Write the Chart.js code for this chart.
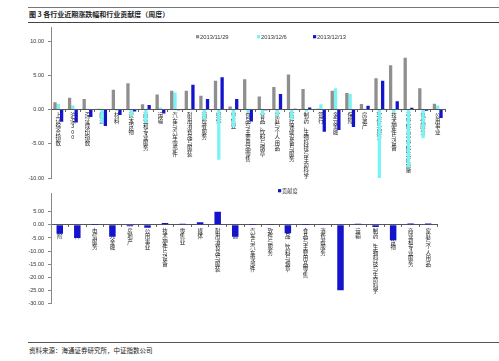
<!DOCTYPE html>
<html>
<head>
<meta charset="utf-8">
<script src="https://cdn.jsdelivr.net/npm/chart.js@4.4.0/dist/chart.umd.min.js"></script>
<style>
  html, body { margin: 0; padding: 0; background: #fff; }
  #wrap { position: relative; width: 499px; height: 361px; overflow: hidden; background: #fff; }
  .line { position: absolute; left: 28px; right: 0; }
  #title { position: absolute; left: 29px; top: 9px; font: bold 7px 'Noto Sans CJK SC', sans-serif; color: #222; white-space: nowrap; }
  #foot { position: absolute; left: 29px; top: 345px; font: 6.5px 'Noto Sans CJK SC', sans-serif; color: #222; white-space: nowrap; }
  #c1 { position: absolute; left: 0; top: 20px; }
  #c2 { position: absolute; left: 0; top: 186px; }
</style>
</head>
<body>
<div id="wrap">
  <div class="line" style="top:7px;height:1px;background:#777;"></div>
  <div id="title">图 3 各行业近期涨跌幅和行业贡献度（周度）</div>
  <div class="line" style="top:22px;height:1px;background:#444;"></div>
  <canvas id="c1" width="499" height="166"></canvas>
  <canvas id="c2" width="499" height="125"></canvas>
  <div class="line" style="top:342px;height:1px;background:#555;"></div>
  <div id="foot">资料来源：海通证券研究所，中证指数公司</div>
</div>
<script>
// ---- data ----
const sectors = ['上证综合指数','沪深300','深证成份指数','能源','材料','资本货物','商业和专业服务','运输','汽车与汽车零部件','耐用消费品与服装','消费者服务','媒体','零售业','食品与主要用品零售','食品、饮料与烟草','家庭与个人用品','医疗保健设备与服务','制药、生物科技与生命科学','银行','多元金融','保险','房地产','软件与服务','技术硬件与设备','半导体与半导体生产设备','电信服务','公用事业'];
const seriesNames = ['2013/11/29','2013/12/6','2013/12/13'];
const week1129 = [1.05, 1.7, 1.55, 0.1, 2.9, 3.85, 0.75, 2.2, 2.75, 2.75, 2.0, 4.2, 0.45, 4.4, 1.9, 3.3, 5.1, 3.0, 0.1, 2.75, 2.4, 0.8, 4.55, 6.45, 7.55, 3.1, 0.85];
const week1206 = [0.8, 0.6, 0.1, -2.0, -0.2, -1.0, -2.0, 0.3, 2.5, 0.1, -1.5, -7.35, -2.55, -0.5, -0.8, -1.0, -1.5, -0.3, 0.75, 3.1, 2.25, 0.1, -10.0, -0.5, -8.5, -4.2, 0.6];
const week1213 = [-1.8, -1.9, -1.1, -2.4, -0.8, -0.3, 0.65, -0.6, -0.1, 3.6, 1.55, 4.7, 1.55, -1.75, -0.1, 2.25, 0.1, 0.3, -3.25, -3.0, -2.55, 0.55, 4.2, 1.2, 0.25, -0.2, -1.25];
const topTicks = [-10, -5, 0, 5, 10];

const contribSectors = ['保险','材料','电信服务','多元金融','房地产','公用事业','技术硬件与设备','零售业','媒体','耐用消费品与服装','能源','汽车与汽车零部件','软件与服务','食品、饮料与烟草','食品与主要用品零售','消费者服务','银行','运输','制药、生物科技与生命科学','资本货物','商业和专业服务','家庭与个人用品'];
const contribName = '贡献度';
const contribValues = [-3.4, -5.0, 0.05, -4.5, -0.5, -1.1, 0.7, 0.45, 0.95, 5.0, -4.5, 0.05, 0.1, -3.2, 0.05, 0.3, -24.9, 0.4, -0.8, -5.9, 0.5, 0.5];
const bottomTicks = [-30, -25, -20, -15, -10, -5, 0, 5, 10];

// ---- styles ----
const GRAY = '#8f8f8f', CYAN = '#78f4f4', BLUE = '#1414cc';
const numFont = { family: "'Liberation Sans', Arial, sans-serif", size: 5.5 };
const cjkFont = { family: "'Noto Sans CJK SC', sans-serif", size: 5.5, lineHeight: 1.0 };

const floatLegend = {
  id: 'floatLegend',
  afterDraw(chart, args, opts) {
    const ctx = chart.ctx;
    ctx.save();
    ctx.textBaseline = 'middle';
    ctx.textAlign = 'left';
    opts.xs.forEach((x, i) => {
      const ds = chart.data.datasets[i];
      ctx.fillStyle = ds.backgroundColor;
      ctx.fillRect(x, opts.y - 1.6, 3.2, 3.2);
      ctx.fillStyle = '#333';
      ctx.font = opts.font;
      ctx.fillText(ds.label, x + 4, opts.y + 0.3);
    });
    ctx.restore();
  }
};

function yAxis(min, max, keep) {
  return {
    min, max,
    ticks: { stepSize: 5, font: numFont, color: '#333', padding: 4, callback: v => Number(v).toFixed(2) },
    afterBuildTicks: s => { s.ticks = s.ticks.filter(t => keep.includes(t.value)); },
    afterFit: s => { s.width = 51; },
    grid: { drawOnChartArea: false, drawTicks: true, tickLength: 3, color: '#888' },
    border: { color: '#888' }
  };
}
function xAxis(z) {
  return {
    position: { y: 0 },
    z,
    ticks: {
      autoSkip: false, maxRotation: 0, minRotation: 0, padding: 1,
      font: cjkFont, color: '#222',
      callback: function (v) { return Array.from(this.getLabelForValue(v)); }
    },
    grid: { drawOnChartArea: false, drawTicks: true, tickLength: 2, color: '#666', offset: true },
    border: { color: '#555' }
  };
}

new Chart(document.getElementById('c1'), {
  type: 'bar',
  data: {
    labels: sectors,
    datasets: [
      { label: seriesNames[0], data: week1129, backgroundColor: GRAY },
      { label: seriesNames[1], data: week1206, backgroundColor: CYAN },
      { label: seriesNames[2], data: week1213, backgroundColor: BLUE }
    ]
  },
  options: {
    responsive: false, animation: false,
    layout: { padding: { left: 0, right: 54, top: 6, bottom: 8 } },
    datasets: { bar: { categoryPercentage: 0.68, barPercentage: 1.0 } },
    plugins: {
      legend: { display: false }, tooltip: { enabled: false },
      floatLegend: { xs: [196, 257, 313], y: 16.7, font: "5.8px 'Liberation Sans', Arial, sans-serif" }
    },
    scales: { x: xAxis(1), y: yAxis(-10, 12, topTicks) }
  },
  plugins: [floatLegend]
});

new Chart(document.getElementById('c2'), {
  type: 'bar',
  data: {
    labels: contribSectors,
    datasets: [{ label: contribName, data: contribValues, backgroundColor: BLUE }]
  },
  options: {
    responsive: false, animation: false,
    layout: { padding: { left: 0, right: 62, top: 4, bottom: 3 } },
    datasets: { bar: { categoryPercentage: 1.0, barPercentage: 0.37 } },
    plugins: {
      legend: { display: false }, tooltip: { enabled: false },
      floatLegend: { xs: [278], y: 4.7, font: "5.2px 'Noto Sans CJK SC', sans-serif" }
    },
    scales: { x: xAxis(0), y: yAxis(-30, 12, bottomTicks) }
  },
  plugins: [floatLegend]
});
</script>
</body>
</html>
